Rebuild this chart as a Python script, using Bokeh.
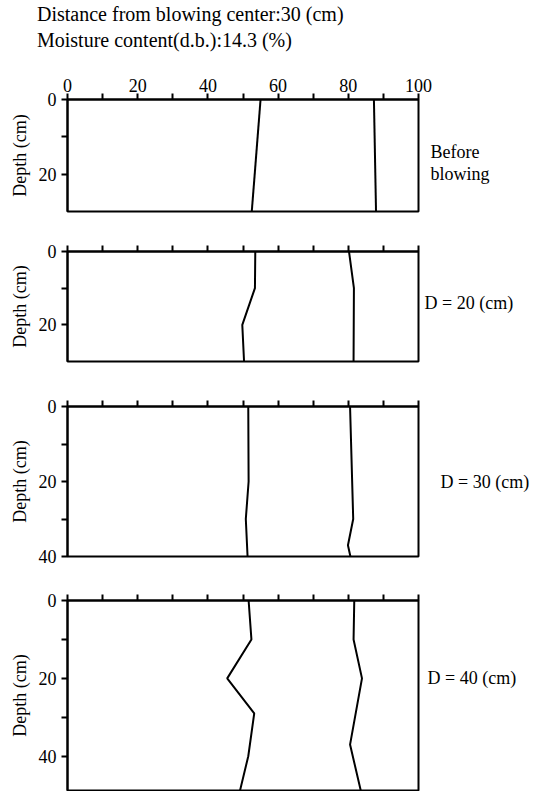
from bokeh.plotting import figure
from bokeh.models import Range1d, FixedTicker, Div, LinearAxis
from bokeh.layouts import column
from bokeh.embed import file_html
from bokeh.resources import INLINE

FONT = "Liberation Serif"

# ---- data ----
x_major = [0, 20, 40, 60, 80, 100]
x_minor = [10, 30, 50, 70, 90]
x_all = [0, 10, 20, 30, 40, 50, 60, 70, 80, 90, 100]

# Before blowing
b_depth_a = [0, 30]
b_a = [55.0, 52.5]
b_depth_b = [0, 30]
b_b = [87.3, 87.9]

# D = 20 cm
d20_depth_a = [0, 10, 20, 30]
d20_a = [53.5, 53.4, 49.8, 50.3]
d20_depth_b = [0, 10, 30]
d20_b = [80.2, 81.6, 81.5]

# D = 30 cm
d30_depth_a = [0, 20, 30, 40]
d30_a = [51.5, 51.6, 50.8, 51.3]
d30_depth_b = [0, 30, 37, 40]
d30_b = [80.5, 81.4, 79.9, 80.6]

# D = 40 cm
d40_depth_a = [0, 10, 20, 29, 40, 49]
d40_a = [51.6, 52.4, 45.5, 53.2, 51.5, 49.1]
d40_depth_b = [0, 10, 20, 37, 49]
d40_b = [81.7, 81.5, 83.9, 80.5, 83.6]

titles = ["Distance from blowing center:30 (cm)", "Moisture content(d.b.):14.3 (%)"]
# right-hand panel captions and the depth at which each line sits
panel_labels = [{14: "Before", 20: "blowing"}, {14: "D = 20 (cm)"},
                {20: "D = 30 (cm)"}, {20: "D = 40 (cm)"}]

W = 558


def make_panel(height, dmax, y_major, y_minor, lines, labels, label_standoff,
               left, right, top, bottom, show_x_labels):
    p = figure(width=W, height=height, x_range=Range1d(0, 100),
               y_range=Range1d(dmax, 0), x_axis_location="above",
               output_backend="svg", toolbar_location=None,
               min_border_left=left, min_border_right=W - right,
               min_border_top=top, min_border_bottom=bottom)
    p.xgrid.visible = False
    p.ygrid.visible = False
    p.outline_line_color = "black"
    p.outline_line_width = 2
    p.outline_line_alpha = 1.0
    p.background_fill_color = "white"
    p.border_fill_color = "white"

    xa = p.xaxis[0]
    if show_x_labels:
        xa.ticker = FixedTicker(ticks=x_major, minor_ticks=x_minor)
    else:
        xa.ticker = FixedTicker(ticks=[], minor_ticks=x_all)
    for ax in (xa, p.yaxis[0]):
        ax.axis_line_width = 2
        ax.axis_line_color = "black"
        ax.major_tick_out = 6
        ax.major_tick_in = 0
        ax.minor_tick_out = 6
        ax.minor_tick_in = 0
        ax.major_tick_line_width = 2
        ax.minor_tick_line_width = 2
        ax.major_tick_line_color = "black"
        ax.minor_tick_line_color = "black"
        ax.major_label_text_font = FONT
        ax.major_label_text_font_size = "18px"
        ax.major_label_text_color = "black"
    xa.major_label_standoff = 2

    ya = p.yaxis[0]
    ya.ticker = FixedTicker(ticks=y_major, minor_ticks=y_minor)
    ya.major_label_standoff = 5
    ya.axis_label = "Depth (cm)"
    ya.axis_label_text_font = FONT
    ya.axis_label_text_font_size = "18px"
    ya.axis_label_text_font_style = "normal"
    ya.axis_label_text_color = "black"
    ya.axis_label_standoff = 6

    for xs, ys in lines:
        p.line(xs, ys, line_color="black", line_width=2)

    ra = LinearAxis(ticker=FixedTicker(ticks=list(labels.keys()), minor_ticks=[]),
                    major_label_overrides=labels,
                    axis_line_color=None, major_tick_line_color=None,
                    minor_tick_line_color=None, major_tick_out=0, major_tick_in=0,
                    major_label_standoff=label_standoff,
                    major_label_text_font=FONT, major_label_text_font_size="18px",
                    major_label_text_color="black")
    p.add_layout(ra, "right")
    return p


title_html = (
    f'<div style="font-family:\'{FONT}\';font-size:20px;color:black;'
    f'padding-left:37px;padding-top:4px;">'
    f'<div style="line-height:20px;white-space:nowrap;">{titles[0]}</div>'
    f'<div style="line-height:32px;white-space:nowrap;">{titles[1]}</div>'
    '</div>'
)
div = Div(text=title_html, width=W, height=63, margin=(0, 0, 0, 0))

p1 = make_panel(167, 30, [0, 20], [10],
                [(b_a, b_depth_a), (b_b, b_depth_b)],
                panel_labels[0], 12, 67, 423, 36, 19, True)
p2 = make_panel(155, 30, [0, 20], [10],
                [(d20_a, d20_depth_a), (d20_b, d20_depth_b)],
                panel_labels[1], 6, 67, 422, 21, 24, False)
p3 = make_panel(195, 40, [0, 20, 40], [10, 30],
                [(d30_a, d30_depth_a), (d30_b, d30_depth_b)],
                panel_labels[2], 22, 66, 419, 21, 24, False)
p4 = make_panel(211, 48.8, [0, 20, 40], [10, 30],
                [(d40_a, d40_depth_a), (d40_b, d40_depth_b)],
                panel_labels[3], 9, 65, 418, 20, 1, False)

layout = column(div, p1, p2, p3, p4, spacing=0)
open("out.html", "w").write(file_html(layout, INLINE))
